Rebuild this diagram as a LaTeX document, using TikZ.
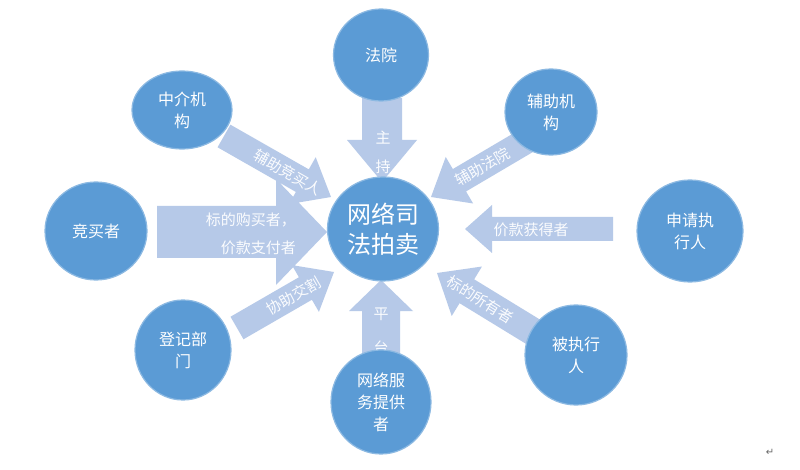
\documentclass[tikz,border=0pt]{standalone}
\usepackage{fontspec}
\setmainfont{Noto Sans CJK SC}
\newfontfamily\symfont{DejaVu Sans}
\usetikzlibrary{calc,shapes.geometric}
\definecolor{circblue}{RGB}{91,155,213}
\definecolor{arrblue}{RGB}{182,201,232}
\tikzset{
  circ/.style={ellipse, fill=circblue, draw=white!30!circblue, line width=1.2pt,
    inner sep=0pt, text=white, align=center, font=\fontsize{16}{22}\selectfont},
  arrfill/.style={fill=arrblue},
  atext/.style={text=white!94!arrblue, font=\fontsize{15}{18}\selectfont, inner sep=0pt},
}
% corner points of a block arrow from #2 to #3
\newcommand\arrpts[6]{%
  \coordinate (#1h) at ($(#3)!#6pt!(#2)$);
  \coordinate (#1a) at ($(#2)!#4pt!90:(#3)$);
  \coordinate (#1b) at ($(#1h)!#4pt!90:(#3)$);
  \coordinate (#1c) at ($(#1h)!#5pt!90:(#3)$);
  \coordinate (#1d) at ($(#1h)!#5pt!-90:(#3)$);
  \coordinate (#1e) at ($(#1h)!#4pt!-90:(#3)$);
  \coordinate (#1f) at ($(#2)!#4pt!-90:(#3)$);}
\newcommand\arrpath[2]{(#1a) -- (#1b) -- (#1c) -- (#2) -- (#1d) -- (#1e) -- (#1f) -- cycle }
\begin{document}
\begin{tikzpicture}[x=1pt,y=-1pt]
\useasboundingbox[fill=white] (0,0) rectangle (800,470);
% arrow end points
\coordinate (tS) at (382,98);  \coordinate (tT) at (382,182);
\coordinate (bS) at (381,356); \coordinate (bT) at (381,280);
\coordinate (lS) at (157,232); \coordinate (lT) at (327,232);
\coordinate (rS) at (613,229); \coordinate (rT) at (465,229);
\coordinate (ulS) at (224,136); \coordinate (ulT) at (331,197);
\coordinate (urS) at (526,141); \coordinate (urT) at (431,197);
\coordinate (llS) at (237,328); \coordinate (llT) at (334,272);
\coordinate (lrS) at (540,336); \coordinate (lrT) at (437,273);
% arrows
\arrpts{t}{tS}{tT}{20}{35}{42}
\arrpts{b}{bS}{bT}{19}{32}{31}
\arrpts{l}{lS}{lT}{26}{53}{51}
\arrpts{r}{rS}{rT}{12}{24}{27}
\arrpts{ul}{ulS}{ulT}{13}{27}{33}
\arrpts{ur}{urS}{urT}{13}{27}{33}
\arrpts{ll}{llS}{llT}{13}{27}{33}
\arrpts{lr}{lrS}{lrT}{14}{29}{35}
\fill[arrfill] \arrpath{t}{tT} \arrpath{b}{bT} \arrpath{l}{lT} \arrpath{r}{rT}
  \arrpath{ul}{ulT} \arrpath{ur}{urT} \arrpath{ll}{llT} \arrpath{lr}{lrT};
% arrow texts
\node[atext, align=center, font=\fontsize{15}{29}\selectfont] (tx1) at (383,152) {主\\持};
\node[atext, align=center, font=\fontsize{15}{34}\selectfont] (tx2) at (381,331) {平\\台};
\node[atext, align=right, anchor=east, font=\fontsize{15}{28}\selectfont] (tx3) at (296,234) {标的购买者，\\价款支付者};
\node[atext] (tx4) at (531,230) {价款获得者};
\path (ulS) -- (ulT) node[atext, sloped, pos=0.6] (tx5) {辅助竞买人};
\path (urS) -- (urT) node[atext, sloped, pos=0.46] (tx6) {辅助法院};
\path (llS) -- (llT) node[atext, sloped, pos=0.58] (tx7) {协助交割};
\path (lrS) -- (lrT) node[atext, sloped, pos=0.58] (tx8) {标的所有者};
% circles
\node[circ, minimum width=111pt, minimum height=104pt, font=\fontsize{24}{30}\selectfont] (c) at (383,229) {网络司\\法拍卖};
\node[circ, minimum width=95pt, minimum height=92pt] (fy) at (381,55) {法院};
\node[circ, minimum width=100pt, minimum height=78pt] (zj) at (182,110) {中介机\\构};
\node[circ, minimum width=92pt, minimum height=86pt] (fz) at (551,112) {辅助机\\构};
\node[circ, minimum width=102pt, minimum height=98pt] (jm) at (96,231) {竞买者};
\node[circ, minimum width=106pt, minimum height=102pt] (sq) at (690,231) {申请执\\行人};
\node[circ, minimum width=96pt, minimum height=100pt] (dj) at (183,350) {登记部\\门};
\node[circ, minimum width=100pt, minimum height=104pt] (wl) at (381,402) {网络服\\务提供\\者};
\node[circ, minimum width=102pt, minimum height=100pt] (bz) at (576,355) {被执行\\人};
\node[text=gray!80!black, font=\symfont\fontsize{10}{10}\selectfont, inner sep=0pt] (pm) at (770,452) {↵};
\end{tikzpicture}
\end{document}
